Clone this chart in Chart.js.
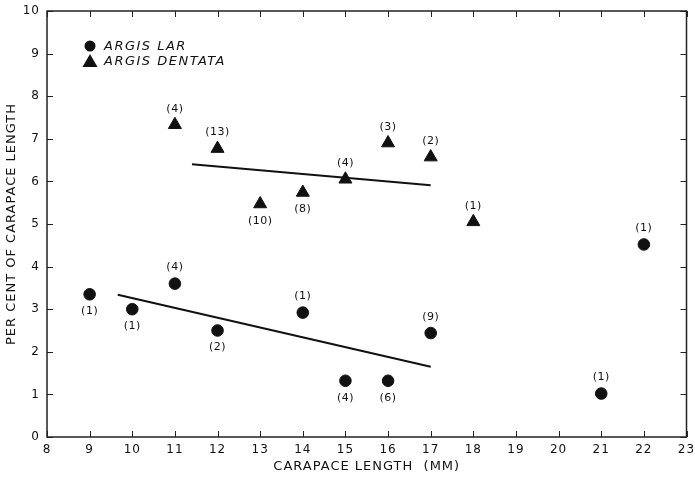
<!DOCTYPE html>
<html>
<head>
<meta charset="utf-8">
<script src="https://cdn.jsdelivr.net/npm/chart.js@4/dist/chart.umd.min.js"></script>
<style>
  html, body { margin: 0; padding: 0; background: #fff; }
  #wrap { width: 695px; height: 484px; }
</style>
</head>
<body>
<div id="wrap"><canvas id="myChart" width="695" height="484"></canvas></div>
<script>
"use strict";
// carapace length (mm) and per cent of carapace length
const larX = [9, 10, 11, 12, 14, 15, 16, 17, 21, 22];
const larY = [3.35, 3.0, 3.6, 2.5, 2.92, 1.32, 1.32, 2.44, 1.02, 4.52];
const larN = ["(1)", "(1)", "(4)", "(2)", "(1)", "(4)", "(6)", "(9)", "(1)", "(1)"];
const larPos = ["below", "below", "above", "below", "above", "below", "below", "above", "above", "above"];

const denX = [11, 12, 13, 14, 15, 16, 17, 18];
const denY = [7.33, 6.77, 5.47, 5.74, 6.05, 6.9, 6.57, 5.05];
const denN = ["(4)", "(13)", "(10)", "(8)", "(4)", "(3)", "(2)", "(1)"];
const denPos = ["above", "above", "below", "below", "above", "above", "above", "above"];

// fitted lines (end points)
const larFitX = [9.66, 17];
const larFitY = [3.34, 1.65];
const denFitX = [11.4, 17];
const denFitY = [6.4, 5.91];

const xTicks = [8, 9, 10, 11, 12, 13, 14, 15, 16, 17, 18, 19, 20, 21, 22, 23];
const yTicks = [0, 1, 2, 3, 4, 5, 6, 7, 8, 9, 10];

const legendNames = ["ARGIS LAR", "ARGIS DENTATA"];

const FONT = "'DejaVu Sans', sans-serif";

function pts(xs, ys) {
  return xs.map((x, i) => ({ x: x, y: ys[i] }));
}

const data = {
  datasets: [
    {
      label: legendNames[0],
      data: pts(larX, larY),
      backgroundColor: "#111",
      borderColor: "#111",
      pointStyle: "circle",
      pointRadius: 5.8,
      counts: larN,
      places: larPos
    },
    {
      label: legendNames[1],
      data: pts(denX, denY),
      backgroundColor: "#111",
      borderColor: "#111",
      pointStyle: "triangle",
      pointRadius: 7.5,
      borderWidth: 1,
      counts: denN,
      places: denPos
    },
    {
      type: "line",
      label: "fit lar",
      data: pts(larFitX, larFitY),
      borderColor: "#111",
      borderWidth: 2,
      pointRadius: 0,
      fill: false
    },
    {
      type: "line",
      label: "fit dentata",
      data: pts(denFitX, denFitY),
      borderColor: "#111",
      borderWidth: 2,
      pointRadius: 0,
      fill: false
    }
  ]
};

// wider lettering like the original stencil text
const spacing = {
  id: "spacing",
  beforeLayout(chart) { chart.ctx.letterSpacing = "1px"; },
  beforeDraw(chart) { chart.ctx.letterSpacing = "1px"; }
};

// counts in brackets, frame, inward ticks, legend inside the plot
const extras = {
  id: "extras",
  afterDatasetsDraw(chart) {
    const ctx = chart.ctx;
    const a = chart.chartArea;
    const xs = chart.scales.x;
    const ys = chart.scales.y;
    ctx.save();
    ctx.strokeStyle = "#222";
    ctx.lineWidth = 1.5;
    ctx.strokeRect(a.left, a.top, a.right - a.left, a.bottom - a.top);
    ctx.lineWidth = 1;
    for (const v of xTicks) {
      const px = Math.round(xs.getPixelForValue(v)) + 0.5;
      ctx.beginPath();
      ctx.moveTo(px, a.bottom); ctx.lineTo(px, a.bottom - 6);
      ctx.moveTo(px, a.top); ctx.lineTo(px, a.top + 6);
      ctx.stroke();
    }
    for (const v of yTicks) {
      const py = Math.round(ys.getPixelForValue(v)) + 0.5;
      ctx.beginPath();
      ctx.moveTo(a.left, py); ctx.lineTo(a.left + 6, py);
      ctx.moveTo(a.right, py); ctx.lineTo(a.right - 6, py);
      ctx.stroke();
    }

    ctx.fillStyle = "#111";
    ctx.font = "11px " + FONT;
    ctx.letterSpacing = "0.5px";
    ctx.textAlign = "center";
    ctx.textBaseline = "middle";
    chart.data.datasets.forEach((ds, di) => {
      if (!ds.counts) return;
      const meta = chart.getDatasetMeta(di);
      meta.data.forEach((el, i) => {
        const off = ds.places[i] === "above" ? -16 : 17;
        ctx.fillText(ds.counts[i], el.x, el.y + off);
      });
    });

    // legend
    const lx = a.left + 43;
    const ly = a.top + 35;
    ctx.font = "italic 13px " + FONT;
    ctx.letterSpacing = "1.5px";
    ctx.textAlign = "left";
    ctx.beginPath();
    ctx.arc(lx, ly, 5.5, 0, Math.PI * 2);
    ctx.fill();
    ctx.beginPath();
    ctx.moveTo(lx, ly + 8);
    ctx.lineTo(lx + 7.5, ly + 21);
    ctx.lineTo(lx - 7.5, ly + 21);
    ctx.closePath();
    ctx.fill();
    ctx.fillText(legendNames[0], lx + 14, ly + 1);
    ctx.fillText(legendNames[1], lx + 14, ly + 16);
    ctx.restore();
  }
};

const config = {
  type: "scatter",
  data: data,
  options: {
    responsive: false,
    animation: false,
    layout: { padding: { top: 11, right: 8, left: 0, bottom: 10 } },
    scales: {
      x: {
        type: "linear",
        min: 8,
        max: 23,
        afterBuildTicks: (s) => { s.ticks = xTicks.map(v => ({ value: v })); },
        afterFit: (s) => { s.height = 37; s.paddingLeft = 0; s.paddingRight = 0; },
        grid: { display: false, drawTicks: false },
        border: { display: false },
        ticks: { color: "#111", font: { family: FONT, size: 12 }, padding: 6 },
        title: {
          display: true,
          text: "CARAPACE LENGTH  (MM)",
          color: "#111",
          font: { family: FONT, size: 13 },
          padding: { top: 2, bottom: 0 }
        }
      },
      y: {
        type: "linear",
        min: 0,
        max: 10,
        afterBuildTicks: (s) => { s.ticks = yTicks.map(v => ({ value: v })); },
        afterFit: (s) => { s.width = 47; s.paddingTop = 0; s.paddingBottom = 0; },
        grid: { display: false, drawTicks: false },
        border: { display: false },
        ticks: { color: "#111", font: { family: FONT, size: 12 }, padding: 7 },
        title: {
          display: true,
          text: "PER CENT OF CARAPACE LENGTH",
          color: "#111",
          font: { family: FONT, size: 13 },
          padding: { top: 4, bottom: 4 }
        }
      }
    },
    plugins: {
      legend: { display: false },
      tooltip: { enabled: false }
    }
  },
  plugins: [spacing, extras]
};

let myChart = new Chart(document.getElementById("myChart"), config);
</script>
</body>
</html>
